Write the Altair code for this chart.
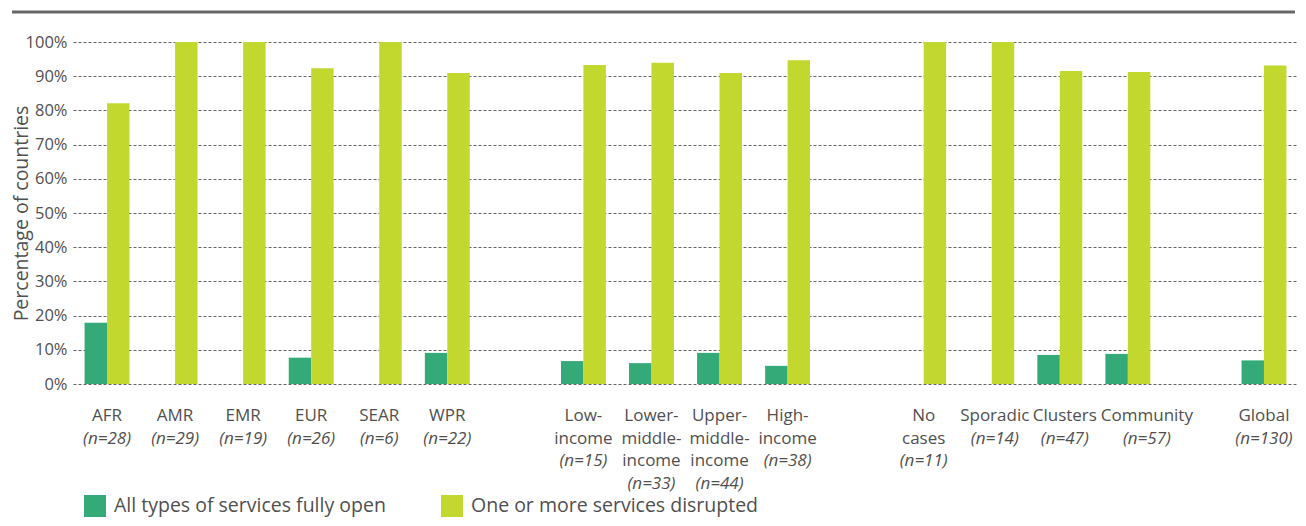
import altair as alt
import pandas as pd

categories = ["AFR", "AMR", "EMR", "EUR", "SEAR", "WPR",
              "Low-income", "Lower-middle-income", "Upper-middle-income", "High-income",
              "No cases", "Sporadic", "Clusters", "Community", "Global"]
cat_labels = ["AFR", "AMR", "EMR", "EUR", "SEAR", "WPR",
              "Low-\nincome", "Lower-\nmiddle-\nincome", "Upper-\nmiddle-\nincome", "High-\nincome",
              "No\ncases", "Sporadic", "Clusters", "Community", "Global"]
n_values = [28, 29, 19, 26, 6, 22, 15, 33, 44, 38, 11, 14, 47, 57, 130]
fully_open = [17.9, 0, 0, 7.7, 0, 9.1, 6.7, 6.1, 9.1, 5.3, 0, 0, 8.5, 8.8, 6.9]
disrupted = [82.1, 100, 100, 92.3, 100, 90.9, 93.3, 93.9, 90.9, 94.7, 100, 100, 91.5, 91.2, 93.1]
series = ["All types of services fully open", "One or more services disrupted"]
colors = ["#33aa78", "#c2d82f"]
y_ticks = list(range(0, 101, 10))

x_domain = categories[:6] + [" "] + categories[6:10] + ["  "] + categories[10:14] + ["   "] + categories[14:]

rows = []
for c, a, b in zip(categories, fully_open, disrupted):
    rows.append({"category": c, "series": series[0], "value": a})
    rows.append({"category": c, "series": series[1], "value": b})
bars_df = pd.DataFrame(rows)

lab_df = pd.DataFrame({
    "category": categories,
    "name": cat_labels,
    "nline": [f"(n={n})" for n in n_values],
    "lines": [lab.count("\n") + 1 for lab in cat_labels],
})

FONT = "Open Sans"
GREY = "#505050"
LH = 22.5
Y0 = 379
LABEL_FS = 17

xscale = alt.Scale(domain=x_domain, paddingInner=0.34, paddingOuter=0.17)
xenc = alt.X("category:N", scale=xscale, axis=None, sort=x_domain)

bars = alt.Chart(bars_df).mark_bar().encode(
    x=xenc,
    xOffset=alt.XOffset("series:N", scale=alt.Scale(domain=series, paddingInner=0, paddingOuter=0)),
    y=alt.Y("value:Q", scale=alt.Scale(domain=[0, 100], nice=False),
            axis=alt.Axis(values=y_ticks, labelExpr="datum.value + '%'",
                          grid=True, gridDash=[3, 2], gridColor="#666666", gridWidth=1,
                          domain=False, ticks=False, labelPadding=6,
                          labelFont=FONT, labelFontSize=16.5, labelColor=GREY,
                          title="Percentage of countries", titleFont=FONT, titleFontSize=19.5,
                          titleFontWeight="normal", titleColor=GREY,
                          titleAngle=-90, titleX=-52, titleY=171,
                          titleAlign="center", titleBaseline="middle")),
    color=alt.Color("series:N", scale=alt.Scale(domain=series, range=colors),
                    legend=alt.Legend(title=None, orient="none", legendX=11, legendY=453,
                                      direction="horizontal", symbolType="square",
                                      symbolSize=484, symbolStrokeWidth=0, symbolOpacity=1,
                                      labelFont=FONT, labelFontSize=19.5, labelColor=GREY,
                                      labelOffset=8, columnPadding=55, labelLimit=400)),
)

# small horizontal nudges of some labels, as in the original layout
label_shift = {"Sporadic": 3, "Clusters": 5, "Community": 19}


def label_layers(flt, dx):
    out = []
    base = alt.Chart(lab_df).transform_filter(flt)
    out.append(base.mark_text(
        lineBreak="\n", baseline="alphabetic", align="center", font=FONT,
        fontSize=LABEL_FS, lineHeight=LH, color=GREY, dx=dx
    ).encode(x=xenc, y=alt.value(Y0), text="name:N"))
    for k in (1, 2, 3):
        out.append(base.transform_filter(alt.datum.lines == k).mark_text(
            baseline="alphabetic", align="center", font=FONT,
            fontSize=LABEL_FS, color=GREY, fontStyle="italic", dx=dx
        ).encode(x=xenc, y=alt.value(Y0 + LH * k), text="nline:N"))
    return out


labels = label_layers(alt.FieldOneOfPredicate(field="category", oneOf=list(label_shift)) == False, 0) \
    if False else []
labels = label_layers(
    "indexof(" + str(list(label_shift)).replace("'", '"') + ", datum.category) < 0", 0)
for cat, dx in label_shift.items():
    labels += label_layers(alt.datum.category == cat, dx)

top_rule = alt.Chart(pd.DataFrame({"a": [0]})).mark_rule(
    strokeWidth=3, color="#666666"
).encode(x=alt.value(-61), x2=alt.value(1222), y=alt.value(-30))

chart = alt.layer(top_rule, bars, *labels).properties(
    width=1225, height=342,
    padding={"left": 65, "top": 34, "right": 0, "bottom": 134},
    autosize=alt.AutoSizeParams(type="none"),
).configure_view(stroke=None)

chart.save("out.html", embed_options={"renderer": "svg", "actions": False})
